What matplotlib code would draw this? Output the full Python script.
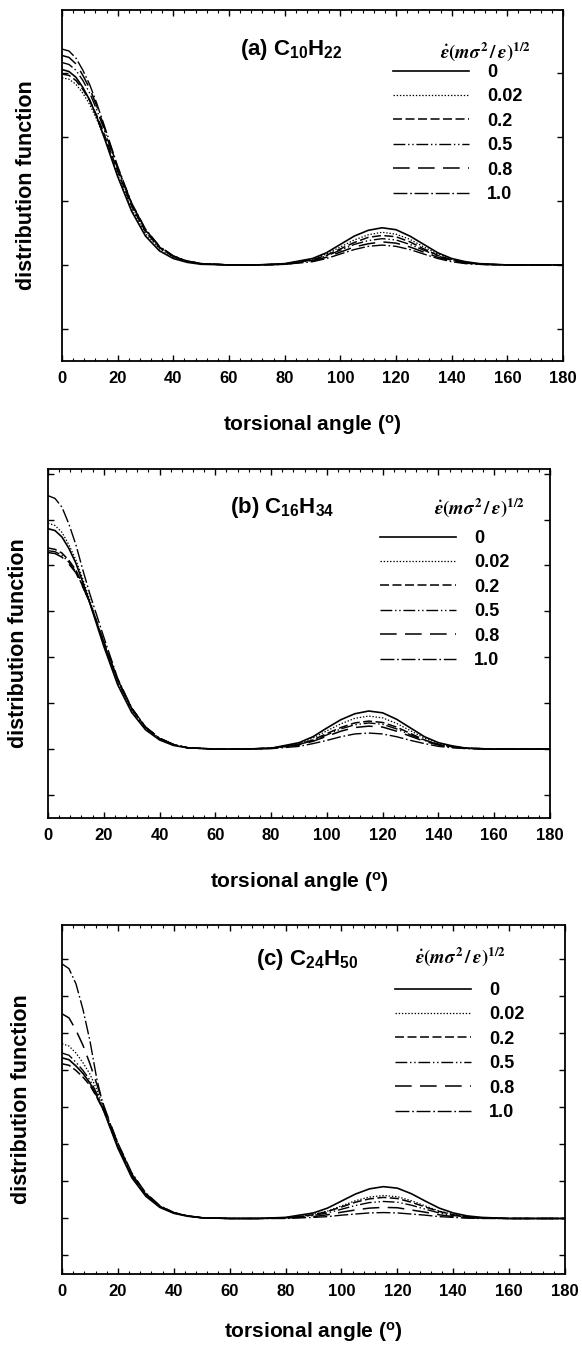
import matplotlib
matplotlib.use("Agg")
import matplotlib.pyplot as plt
from matplotlib.ticker import MultipleLocator, NullFormatter

plt.rcParams["font.family"] = ["Liberation Sans", "DejaVu Sans"]
plt.rcParams["font.weight"] = "bold"
plt.rcParams["axes.labelweight"] = "bold"
plt.rcParams["mathtext.fontset"] = "custom"
plt.rcParams["mathtext.rm"] = "Liberation Sans:bold"
plt.rcParams["mathtext.it"] = "Liberation Sans:italic:bold"
plt.rcParams["mathtext.bf"] = "Liberation Sans:bold"
plt.rcParams["lines.scale_dashes"] = False

# torsional angle (degrees) at which the curves were read
ANGLE = [0, 2.5, 5, 7.5, 10, 12.5, 15, 20, 25, 30, 35, 40, 45, 50, 60, 70, 80,
         90, 95, 100, 105, 110, 115, 120, 125, 130, 135, 140, 145, 150, 160,
         170, 180]

# strain rates, in legend order
RATES = ["0", "0.02", "0.2", "0.5", "0.8", "1.0"]

# distribution function (arbitrary units, one unit per y tick), one row per rate
C10H22 = [
    [4.05, 4.02, 3.93, 3.77, 3.57, 3.31, 3.01, 2.38, 1.84, 1.45, 1.22, 1.10, 1.04, 1.01, 1.00, 1.00, 1.02, 1.10, 1.19, 1.32, 1.45, 1.54, 1.58, 1.55, 1.45, 1.32, 1.19, 1.10, 1.05, 1.02, 1.00, 1.00, 1.00],
    [3.92, 3.90, 3.82, 3.68, 3.50, 3.27, 3.01, 2.41, 1.88, 1.49, 1.25, 1.12, 1.05, 1.02, 1.00, 1.00, 1.02, 1.09, 1.17, 1.28, 1.39, 1.47, 1.51, 1.48, 1.40, 1.28, 1.17, 1.09, 1.04, 1.02, 1.00, 1.00, 1.00],
    [3.98, 3.96, 3.88, 3.74, 3.56, 3.33, 3.06, 2.46, 1.92, 1.52, 1.27, 1.13, 1.06, 1.02, 1.00, 1.00, 1.01, 1.08, 1.15, 1.25, 1.35, 1.43, 1.46, 1.44, 1.36, 1.25, 1.15, 1.08, 1.04, 1.01, 1.00, 1.00, 1.00],
    [4.16, 4.13, 4.04, 3.88, 3.68, 3.42, 3.13, 2.50, 1.95, 1.54, 1.28, 1.13, 1.06, 1.02, 1.00, 1.00, 1.01, 1.07, 1.14, 1.23, 1.32, 1.38, 1.41, 1.39, 1.32, 1.23, 1.14, 1.07, 1.03, 1.01, 1.00, 1.00, 1.00],
    [4.27, 4.24, 4.14, 3.96, 3.75, 3.48, 3.17, 2.52, 1.96, 1.55, 1.29, 1.14, 1.06, 1.02, 1.00, 1.00, 1.01, 1.06, 1.12, 1.20, 1.28, 1.33, 1.36, 1.34, 1.28, 1.20, 1.12, 1.06, 1.03, 1.01, 1.00, 1.00, 1.00],
    [4.37, 4.34, 4.23, 4.04, 3.81, 3.52, 3.20, 2.54, 1.97, 1.56, 1.29, 1.14, 1.06, 1.02, 1.00, 1.00, 1.01, 1.05, 1.10, 1.17, 1.24, 1.29, 1.31, 1.29, 1.24, 1.17, 1.10, 1.05, 1.02, 1.01, 1.00, 1.00, 1.00],
]

C16H34 = [
    [5.80, 5.76, 5.62, 5.37, 5.05, 4.63, 4.18, 3.24, 2.40, 1.80, 1.42, 1.20, 1.08, 1.03, 1.00, 1.00, 1.02, 1.14, 1.27, 1.46, 1.64, 1.77, 1.83, 1.79, 1.65, 1.46, 1.27, 1.14, 1.07, 1.02, 1.00, 1.00, 1.00],
    [5.92, 5.87, 5.72, 5.45, 5.12, 4.70, 4.25, 3.30, 2.46, 1.84, 1.45, 1.22, 1.09, 1.03, 1.00, 1.00, 1.02, 1.12, 1.24, 1.40, 1.55, 1.67, 1.72, 1.68, 1.56, 1.40, 1.24, 1.12, 1.06, 1.02, 1.00, 1.00, 1.00],
    [5.38, 5.35, 5.27, 5.11, 4.90, 4.57, 4.20, 3.33, 2.50, 1.88, 1.47, 1.23, 1.10, 1.03, 1.00, 1.00, 1.02, 1.10, 1.20, 1.34, 1.47, 1.57, 1.61, 1.58, 1.48, 1.34, 1.20, 1.10, 1.05, 1.02, 1.00, 1.00, 1.00],
    [5.32, 5.30, 5.22, 5.07, 4.86, 4.54, 4.18, 3.32, 2.49, 1.87, 1.47, 1.23, 1.10, 1.03, 1.00, 1.00, 1.02, 1.10, 1.19, 1.31, 1.44, 1.53, 1.57, 1.54, 1.44, 1.31, 1.19, 1.10, 1.05, 1.02, 1.00, 1.00, 1.00],
    [5.28, 5.26, 5.18, 5.03, 4.84, 4.53, 4.19, 3.34, 2.51, 1.89, 1.48, 1.24, 1.10, 1.03, 1.00, 1.00, 1.02, 1.09, 1.17, 1.28, 1.39, 1.47, 1.50, 1.48, 1.39, 1.28, 1.17, 1.09, 1.04, 1.02, 1.00, 1.00, 1.00],
    [6.52, 6.46, 6.27, 5.90, 5.45, 4.90, 4.38, 3.44, 2.54, 1.90, 1.48, 1.24, 1.10, 1.03, 1.00, 1.00, 1.01, 1.06, 1.12, 1.19, 1.27, 1.33, 1.35, 1.33, 1.27, 1.19, 1.12, 1.06, 1.03, 1.01, 1.00, 1.00, 1.00],
]

C24H50 = [
    [5.34, 5.29, 5.12, 4.92, 4.66, 4.30, 3.90, 2.90, 2.10, 1.60, 1.30, 1.14, 1.06, 1.02, 1.00, 1.00, 1.03, 1.15, 1.28, 1.47, 1.66, 1.80, 1.86, 1.82, 1.67, 1.47, 1.28, 1.15, 1.07, 1.03, 1.00, 1.00, 1.00],
    [5.72, 5.66, 5.47, 5.21, 4.90, 4.47, 4.00, 2.98, 2.16, 1.64, 1.33, 1.15, 1.07, 1.02, 1.00, 1.00, 1.02, 1.11, 1.20, 1.34, 1.48, 1.58, 1.62, 1.59, 1.48, 1.34, 1.20, 1.11, 1.05, 1.02, 1.00, 1.00, 1.00],
    [5.18, 5.14, 5.00, 4.82, 4.60, 4.27, 3.90, 2.94, 2.14, 1.63, 1.32, 1.15, 1.07, 1.02, 1.00, 1.00, 1.02, 1.10, 1.19, 1.31, 1.44, 1.53, 1.57, 1.54, 1.44, 1.31, 1.19, 1.10, 1.05, 1.02, 1.00, 1.00, 1.00],
    [5.47, 5.41, 5.22, 5.00, 4.74, 4.37, 3.96, 2.98, 2.17, 1.65, 1.33, 1.15, 1.07, 1.02, 1.00, 1.00, 1.01, 1.08, 1.15, 1.25, 1.35, 1.43, 1.46, 1.44, 1.36, 1.25, 1.15, 1.08, 1.04, 1.01, 1.00, 1.00, 1.00],
    [6.53, 6.42, 6.09, 5.68, 5.18, 4.62, 4.04, 3.02, 2.20, 1.67, 1.34, 1.16, 1.07, 1.02, 1.00, 1.00, 1.01, 1.05, 1.10, 1.17, 1.23, 1.28, 1.30, 1.29, 1.23, 1.17, 1.10, 1.05, 1.02, 1.01, 1.00, 1.00, 1.00],
    [7.88, 7.75, 7.34, 6.65, 5.80, 4.75, 3.98, 3.04, 2.23, 1.69, 1.35, 1.16, 1.07, 1.02, 1.00, 1.00, 1.00, 1.03, 1.05, 1.09, 1.12, 1.15, 1.16, 1.15, 1.12, 1.09, 1.05, 1.03, 1.01, 1.00, 1.00, 1.00, 1.00],
]

# line style per rate (dash patterns in points)
STYLES = ["-", (0, (1, 1.3)), (0, (6.5, 2.5)), (0, (8.5, 2, 1, 2, 1, 2)),
          (0, (12, 6)), (0, (10, 2, 1.2, 2))]
WIDTHS = [1.2, 0.9, 1.1, 1.0, 1.1, 1.0]

HEADER = r"$\dot{\varepsilon}(m\sigma^2\,/\,\varepsilon)^{1/2}$"

W, H = 582, 1347
fig = plt.figure(figsize=(W / 100, H / 100), dpi=100)

# layout in figure pixels: box = (left, top, right, bottom)
panels = [
    dict(data=C10H22, tag="(a) C$_{10}$H$_{22}$", box=(62, 10, 563, 361), ytop=4.98,
         tag_xy=(240, 50), head_xy=(486, 52), leg_xy=(393, 64), ylab_x=27, xlab_dy=64),
    dict(data=C16H34, tag="(b) C$_{16}$H$_{34}$", box=(48, 469, 550, 818), ytop=7.10,
         tag_xy=(230, 507), head_xy=(480, 508), leg_xy=(380, 530), ylab_x=19, xlab_dy=64),
    dict(data=C24H50, tag="(c) C$_{24}$H$_{50}$", box=(62, 925, 565, 1274), ytop=8.93,
         tag_xy=(256, 959), head_xy=(461, 957), leg_xy=(395, 982), ylab_x=22, xlab_dy=58),
]

for p in panels:
    left, top, right, bottom = p["box"]
    ax = fig.add_axes([left / W, 1 - bottom / H, (right - left) / W, (bottom - top) / H])

    def to_ax(px, py):
        return (px - left) / (right - left), (bottom - py) / (bottom - top)

    handles = []
    for vals, ls, lw in zip(p["data"], STYLES, WIDTHS):
        ln, = ax.plot(ANGLE, vals, color="black", linestyle=ls, linewidth=lw)
        handles.append(ln)

    ax.set_xlim(0, 180)
    ax.set_ylim(-0.5, p["ytop"])
    ax.xaxis.set_major_locator(MultipleLocator(20))
    ax.xaxis.set_minor_locator(MultipleLocator(4))
    ax.yaxis.set_major_locator(MultipleLocator(1))
    ax.yaxis.set_major_formatter(NullFormatter())
    ax.tick_params(which="both", direction="in", top=True, right=True,
                   labelsize=12, pad=7)
    ax.tick_params(which="major", length=4, width=1.0)
    ax.tick_params(which="minor", length=2, width=0.8)
    for s in ax.spines.values():
        s.set_linewidth(1.3)

    ax.set_xlabel("torsional angle ($^{\\mathrm{o}}$)", fontsize=15, va="center")
    ax.xaxis.set_label_coords(0.5, to_ax(0, bottom + p["xlab_dy"])[1])
    ax.set_ylabel("distribution function", fontsize=15.5, va="center")
    ax.yaxis.set_label_coords(to_ax(p["ylab_x"], 0)[0], 0.5)

    tx, ty = to_ax(*p["tag_xy"])
    ax.text(tx, ty, p["tag"], transform=ax.transAxes, ha="left", va="center",
            fontsize=16)
    hx, hy = to_ax(*p["head_xy"])
    ax.text(hx, hy, HEADER, transform=ax.transAxes, ha="center", va="center",
            fontsize=13.5, math_fontfamily="stix")

    lx, ly = to_ax(*p["leg_xy"])
    ax.legend(handles, RATES, loc="upper left", bbox_to_anchor=(lx, ly),
              frameon=False, fontsize=13, handlelength=4.2, handletextpad=1.0,
              labelspacing=0.41, borderpad=0, borderaxespad=0)

fig.savefig("out.png", dpi=100)
